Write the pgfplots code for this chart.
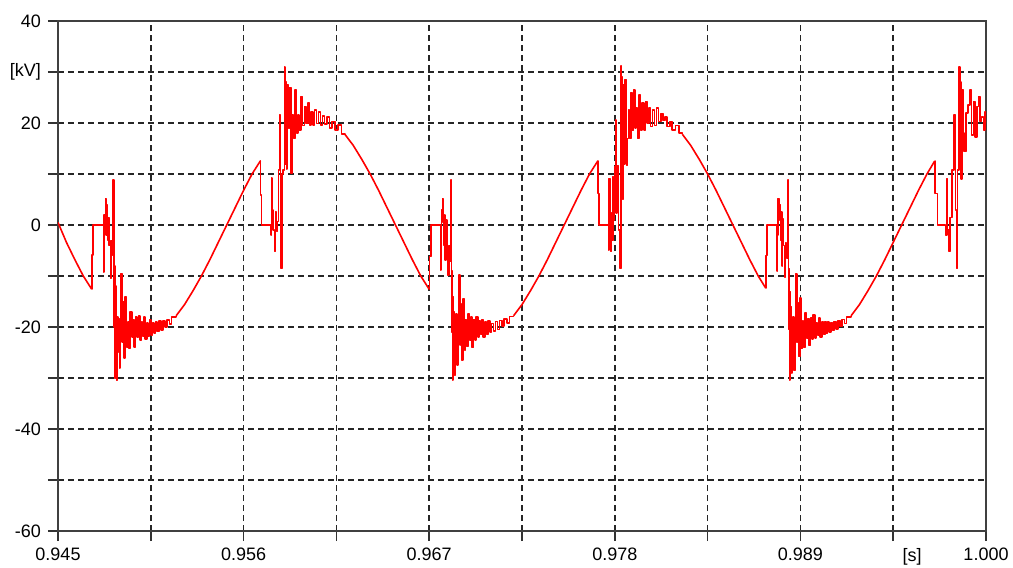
\documentclass[border=0pt]{standalone}
\usepackage{fontspec}
\setmainfont{Liberation Sans}
\usepackage{pgfplots}
\pgfplotsset{compat=1.18}
\pgfplotsset{
  wave/.style={red, line width=0.8pt, line join=round},
}
\begin{document}
\begin{tikzpicture}
\begin{axis}[
  name=ax,
  scale only axis, width=464pt, height=255pt,
  xmin=0.945, xmax=1.0, ymin=-60, ymax=40,
  xtick={0.945,0.9505,0.956,0.9615,0.967,0.9725,0.978,0.9835,0.989,0.9945,1.0},
  xticklabels={0.945,,0.956,,0.967,,0.978,,0.989,,1.000},
  extra x ticks={0.99562},
  extra x tick labels={[s]},
  extra x tick style={grid=none, tick style={draw=none}},
  ytick={-60,-50,...,40},
  yticklabels={-60,,-40,,-20,,0,,20,{[kV]},40},
  xtick pos=bottom, ytick pos=left,
  tick align=outside, major tick length=5pt,
  grid=major,
  major grid style={black!85, line width=0.85pt, dash pattern=on 3pt off 2pt},
  axis line style={black!75, line width=1pt},
  tick style={black!80, line width=0.8pt},
  tick label style={font=\fontsize{9}{10}\selectfont},
  /pgf/number format/assume math mode=true,
  scaled x ticks=false,
]
% ---- smooth parts of the voltage between switching events ----
\addplot[wave] table {
0.94500 0.5
0.94550 -3.4
0.94600 -6.8
0.94650 -10.0
0.94700 -12.6
};
\addplot[wave] table {
0.95200 -17.8
0.95250 -15.6
0.95300 -12.9
0.95350 -10.0
0.95400 -6.8
0.95450 -3.4
0.95500 0
0.95550 3.4
0.95600 6.8
0.95650 10.0
0.95700 12.6
};
\addplot[wave] table {
0.96200 17.8
0.96250 15.6
0.96300 12.9
0.96350 10.0
0.96400 6.8
0.96450 3.4
0.96500 0
0.96550 -3.4
0.96600 -6.8
0.96650 -10.0
0.96700 -12.6
};
\addplot[wave] table {
0.97200 -17.8
0.97250 -15.6
0.97300 -12.9
0.97350 -10.0
0.97400 -6.8
0.97450 -3.4
0.97500 0
0.97550 3.4
0.97600 6.8
0.97650 10.0
0.97700 12.6
};
\addplot[wave] table {
0.98200 17.8
0.98250 15.6
0.98300 12.9
0.98350 10.0
0.98400 6.8
0.98450 3.4
0.98500 0
0.98550 -3.4
0.98600 -6.8
0.98650 -10.0
0.98695 -12.4
};
\addplot[wave] table {
0.99200 -17.8
0.99250 -15.6
0.99300 -12.9
0.99350 -10.0
0.99400 -6.8
0.99450 -3.4
0.99500 0
0.99550 3.4
0.99600 6.8
0.99650 10.0
0.99695 12.5
};
% ---- switching transients (sample-and-hold steps) ----
\addplot[wave, const plot] table {
0.94700 -12.6
0.94701 -5.9
0.94709 0
0.94769 -9.2
0.94772 -4.0
0.94774 2.0
0.94778 1.0
0.94781 5.2
0.94785 -2.0
0.94790 3.9
0.94794 -2.9
0.94798 1.5
0.94803 -4.0
0.94810 -10.5
0.94815 -3.0
0.94822 -6.0
0.94827 8.8
0.94831 -20.0
0.94834 -8.0
0.94837 -30.1
0.94840 -12.0
0.94843 -27.0
0.94845 -15.0
0.94847 -30.5
0.94850 -18.0
0.94854 -25.0
0.94857 -18.3
0.94864 -28.0
0.94868 -20.0
0.94873 -9.5
0.94879 -22.9
0.94884 -15.0
0.94890 -26.1
0.94898 -14.1
0.94906 -23.9
0.94914 -19.0
0.94920 -24.2
0.94928 -17.0
0.94937 -22.0
0.94945 -18.5
0.94952 -23.9
0.94960 -18.0
0.94968 -22.0
0.94976 -17.8
0.94986 -22.5
0.94994 -19.0
0.95000 -21.8
0.95008 -18.0
0.95016 -22.3
0.95026 -19.2
0.95035 -21.8
0.95043 -18.6
0.95051 -21.6
0.95060 -19.2
0.95068 -21.2
0.95078 -19.0
0.95088 -20.9
0.95098 -18.8
0.95110 -20.6
0.95122 -18.8
0.95134 -20.0
0.95146 -18.6
0.95160 -19.4
0.95172 -18.0
0.95200 -17.8
};
\addplot[wave, const plot] table {
0.95700 12.6
0.95701 5.9
0.95707 0
0.95762 -2.0
0.95766 9.2
0.95770 3.0
0.95776 -1.0
0.95783 -5.2
0.95788 2.6
0.95794 -1.3
0.95800 0.7
0.95807 10.8
0.95813 21.6
0.95818 5.0
0.95823 -8.5
0.95828 10.0
0.95834 10.8
0.95843 31.0
0.95847 12.0
0.95850 28.0
0.95854 11.0
0.95858 27.4
0.95866 18.9
0.95873 27.0
0.95880 10.1
0.95888 21.6
0.95896 17.0
0.95904 26.5
0.95914 18.0
0.95922 21.6
0.95930 18.6
0.95940 25.2
0.95950 19.5
0.95960 23.2
0.95970 19.9
0.95980 23.9
0.95990 19.6
0.96000 22.2
0.96010 19.6
0.96020 22.5
0.96032 19.9
0.96044 22.2
0.96056 19.6
0.96068 21.4
0.96080 19.8
0.96095 21.2
0.96110 19.0
0.96125 20.3
0.96140 18.6
0.96160 19.6
0.96180 17.9
0.96200 17.8
};
\addplot[wave, const plot] table {
0.96700 -12.6
0.96701 -6.2
0.96711 0
0.96766 -8.8
0.96770 -3.0
0.96773 3.0
0.96778 5.2
0.96782 0.5
0.96786 -4.0
0.96790 2.0
0.96795 -6.9
0.96800 1.0
0.96804 -2.5
0.96809 -9.8
0.96816 -4.0
0.96822 -7.0
0.96828 8.8
0.96832 -21.0
0.96835 -9.0
0.96838 -30.4
0.96841 -14.0
0.96844 -28.0
0.96846 -17.0
0.96849 -29.5
0.96852 -19.0
0.96856 -26.0
0.96860 -17.5
0.96866 -27.5
0.96870 -20.5
0.96875 -9.8
0.96881 -23.5
0.96886 -15.5
0.96892 -26.5
0.96900 -14.5
0.96908 -24.5
0.96915 -18.5
0.96922 -23.8
0.96930 -17.5
0.96938 -22.5
0.96946 -18.0
0.96954 -24.0
0.96962 -18.5
0.96970 -22.5
0.96978 -18.0
0.96988 -22.0
0.96996 -18.8
0.97004 -21.5
0.97012 -18.5
0.97020 -22.0
0.97030 -19.0
0.97040 -21.5
0.97050 -18.8
0.97060 -21.0
0.97070 -19.3
0.97080 -20.8
0.97092 -18.9
0.97104 -20.5
0.97116 -18.7
0.97130 -19.8
0.97145 -18.4
0.97160 -19.2
0.97175 -17.9
0.97200 -17.8
};
\addplot[wave, const plot] table {
0.97700 12.6
0.97701 6.2
0.97708 0
0.97762 -4.9
0.97766 9.1
0.97770 0.5
0.97774 -5.2
0.97780 2.3
0.97784 -3.0
0.97788 9.5
0.97793 1.0
0.97797 11.5
0.97803 20.6
0.97808 2.3
0.97814 11.7
0.97822 -1.0
0.97830 -8.5
0.97835 31.2
0.97839 15.0
0.97842 29.0
0.97846 5.0
0.97850 27.5
0.97856 12.0
0.97862 28.5
0.97870 11.7
0.97876 17.0
0.97882 22.5
0.97888 17.0
0.97895 26.0
0.97903 18.5
0.97910 26.5
0.97918 19.0
0.97926 22.9
0.97934 17.0
0.97943 25.5
0.97952 18.6
0.97962 23.9
0.97972 18.6
0.97982 24.2
0.97992 20.0
0.98002 22.9
0.98012 19.3
0.98024 22.5
0.98036 19.5
0.98048 22.9
0.98060 20.3
0.98072 21.9
0.98084 20.5
0.98096 21.2
0.98110 19.3
0.98126 20.3
0.98140 18.6
0.98160 19.5
0.98180 18.0
0.98200 17.8
};
\addplot[wave, const plot] table {
0.98695 -12.4
0.98696 -6.0
0.98702 0
0.98760 -9.0
0.98764 -2.0
0.98768 5.2
0.98773 1.0
0.98777 4.0
0.98781 -3.0
0.98786 2.5
0.98790 -8.0
0.98795 1.2
0.98800 -4.0
0.98806 -10.2
0.98812 -3.5
0.98818 -6.5
0.98825 8.8
0.98829 -20.5
0.98832 -8.5
0.98835 -30.4
0.98838 -13.0
0.98841 -27.5
0.98843 -16.0
0.98846 -29.0
0.98849 -18.5
0.98853 -25.5
0.98857 -18.0
0.98863 -28.5
0.98867 -20.0
0.98872 -9.6
0.98878 -23.0
0.98883 -15.2
0.98889 -25.8
0.98897 -14.3
0.98905 -24.2
0.98913 -18.8
0.98919 -24.0
0.98927 -17.2
0.98936 -22.2
0.98944 -18.3
0.98951 -23.6
0.98959 -18.2
0.98967 -22.4
0.98975 -17.6
0.98985 -22.2
0.98993 -19.2
0.99001 -21.6
0.99009 -18.2
0.99017 -22.0
0.99027 -19.0
0.99036 -21.5
0.99044 -18.9
0.99052 -21.3
0.99061 -19.0
0.99070 -21.0
0.99080 -19.1
0.99090 -20.7
0.99100 -18.9
0.99112 -20.4
0.99124 -18.7
0.99136 -19.9
0.99148 -18.5
0.99162 -19.3
0.99174 -18.0
0.99200 -17.8
};
\addplot[wave, const plot] table {
0.99695 12.5
0.99697 6.2
0.99712 0
0.99761 -2.0
0.99767 9.1
0.99772 -1.0
0.99781 -5.2
0.99788 1.5
0.99797 10.8
0.99812 21.6
0.99818 3.0
0.99826 -8.5
0.99832 10.8
0.99840 31.0
0.99845 14.0
0.99849 28.0
0.99853 9.0
0.99858 26.5
0.99866 18.0
0.99871 14.4
0.99880 22.0
0.99892 23.5
0.99905 26.5
0.99915 17.6
0.99925 24.2
0.99935 17.3
0.99945 23.2
0.99955 25.2
0.99964 20.3
0.99974 21.2
0.99984 18.6
0.99994 22.2
1.00000 20.0
};
\end{axis}
\pgfresetboundingbox
\path ([xshift=-29pt,yshift=-18pt]ax.south west) rectangle ([xshift=13.5pt,yshift=10.5pt]ax.north east);
\end{tikzpicture}
\end{document}
